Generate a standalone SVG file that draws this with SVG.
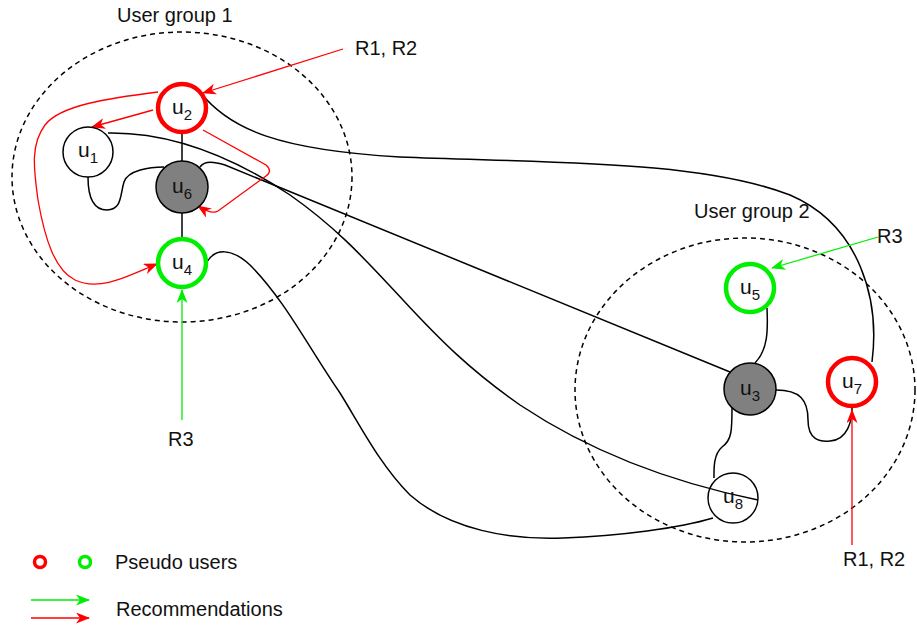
<svg xmlns="http://www.w3.org/2000/svg" width="917" height="628" viewBox="0 0 917 628">
<style>
  text { font-family: "Liberation Sans", Arial, sans-serif; fill: #111; }
  .lbl { font-size: 20px; }
  .nl { font-size: 21px; text-anchor: middle; }
  .sub { font-size: 15px; }
  .grp { fill: none; stroke: #000; stroke-width: 1.5; stroke-dasharray: 5 4; }
  .e { fill: none; stroke: #000; stroke-width: 1.5; }
  .r { fill: none; stroke: #ff0000; stroke-width: 1.3; marker-end: url(#ar); }
  .g { fill: none; stroke: #00ee00; stroke-width: 1.3; marker-end: url(#ag); }
  .nr { fill: #fff; stroke: #ff0000; stroke-width: 4.5; }
  .ng { fill: #fff; stroke: #00ee00; stroke-width: 4.5; }
  .nw { fill: #fff; stroke: #000; stroke-width: 1.5; }
  .nd { fill: #808080; stroke: #000; stroke-width: 1.5; }
</style>
<defs>
  <marker id="ar" viewBox="0 0 14 11" refX="13" refY="5.5" markerWidth="14" markerHeight="11" markerUnits="userSpaceOnUse" orient="auto">
    <path d="M0,0 L14,5.5 L0,11 L4,5.5 Z" fill="#ff0000"/>
  </marker>
  <marker id="ag" viewBox="0 0 14 11" refX="13" refY="5.5" markerWidth="14" markerHeight="11" markerUnits="userSpaceOnUse" orient="auto">
    <path d="M0,0 L14,5.5 L0,11 L4,5.5 Z" fill="#00ee00"/>
  </marker>
</defs>
<rect width="917" height="628" fill="#fff"/>

<g id="groups">
  <ellipse class="grp" cx="182" cy="177" rx="170" ry="145"/>
  <text class="lbl" x="117" y="22">User group 1</text>
  <ellipse class="grp" cx="745" cy="390" rx="170" ry="152"/>
  <text class="lbl" x="694" y="218">User group 2</text>
</g>

<g id="connectors">
  <path class="e" d="M182,134 L182,161"/>
  <path class="e" d="M182,213 L182,239"/>
  <path class="e" d="M88,177 C88,200 95,210 107,210 C122,210 120,195 124,182 C128,170 150,167 164,167"/>
  <path class="e" d="M108,133 C170,132 230,155 290,195 C340,230 370,265 403,300 C440,340 470,370 520,405 C580,445 660,480 758,500"/>
  <path class="e" d="M200,167 C205,160 215,162 225,165 L730,372"/>
  <path class="e" d="M207,262 C215,248 232,248 250,265 C285,300 310,350 340,393 C360,425 380,465 410,495 C450,530 510,540 563,538 C620,536 680,528 713,518"/>
  <path class="e" d="M200,92 C230,130 280,150 400,157 C550,163 700,160 790,195 C860,225 880,300 872,362"/>
  <path class="e" d="M767,308 C768,330 768,350 755,363"/>
  <path class="e" d="M776,390 C800,390 808,400 808,420 C808,440 820,442 830,441 C848,440 852,420 852,408"/>
  <path class="e" d="M732,407 C732,430 732,440 722,447 C713,455 714,470 714,478"/>

  <path class="r" d="M343,49 L203,93"/>
  <path class="r" d="M153,110 L92,127"/>
  <path class="r" d="M158,92 C110,98 60,105 45,125 C30,145 34,170 38,200 C45,240 55,270 75,280 C100,292 130,275 157,264"/>
  <path class="r" d="M203,130 L266,165 Q273,171 266,176 L218,211 Q212,215 198,206"/>
  <path class="g" d="M182,420 L182,290"/>
  <path class="g" d="M878,237 L772,268"/>
  <path class="r" d="M852,545 L852,410"/>
</g>

<g id="u2"><circle class="nr" cx="182" cy="108" r="24"/><text class="nl" x="182" y="114">u<tspan class="sub" dy="6">2</tspan></text></g>
<g id="u1"><circle class="nw" cx="88" cy="152" r="25"/><text class="nl" x="88" y="157">u<tspan class="sub" dy="6">1</tspan></text></g>
<g id="u6"><circle class="nd" cx="182" cy="187" r="26"/><text class="nl" x="182" y="193">u<tspan class="sub" dy="6">6</tspan></text></g>
<g id="u4"><circle class="ng" cx="182" cy="263" r="24"/><text class="nl" x="182" y="269">u<tspan class="sub" dy="6">4</tspan></text></g>
<g id="u5"><circle class="ng" cx="750" cy="288" r="24"/><text class="nl" x="750" y="294">u<tspan class="sub" dy="6">5</tspan></text></g>
<g id="u3"><circle class="nd" cx="750" cy="389" r="26"/><text class="nl" x="750" y="395">u<tspan class="sub" dy="6">3</tspan></text></g>
<g id="u7"><circle class="nr" cx="852" cy="382" r="24"/><text class="nl" x="852" y="388">u<tspan class="sub" dy="6">7</tspan></text></g>
<g id="u8"><circle class="nw" cx="733" cy="498" r="25" style="fill:none"/><text class="nl" x="733" y="503">u<tspan class="sub" dy="6">8</tspan></text></g>

<g id="labels">
  <text class="lbl" x="355" y="55">R1, R2</text>
  <text class="lbl" x="877" y="243">R3</text>
  <text class="lbl" x="168" y="446">R3</text>
  <text class="lbl" x="843" y="566">R1, R2</text>
</g>

<g id="legend">
  <circle cx="40" cy="562" r="5.5" fill="#fff" stroke="#ff0000" stroke-width="3.5"/>
  <circle cx="85" cy="562" r="5.5" fill="#fff" stroke="#00ee00" stroke-width="3.5"/>
  <text class="lbl" x="115" y="569">Pseudo users</text>
  <path class="g" d="M31,600 L89,600"/>
  <path class="r" d="M31,618 L89,618"/>
  <text class="lbl" x="116" y="616">Recommendations</text>
</g>
</svg>
